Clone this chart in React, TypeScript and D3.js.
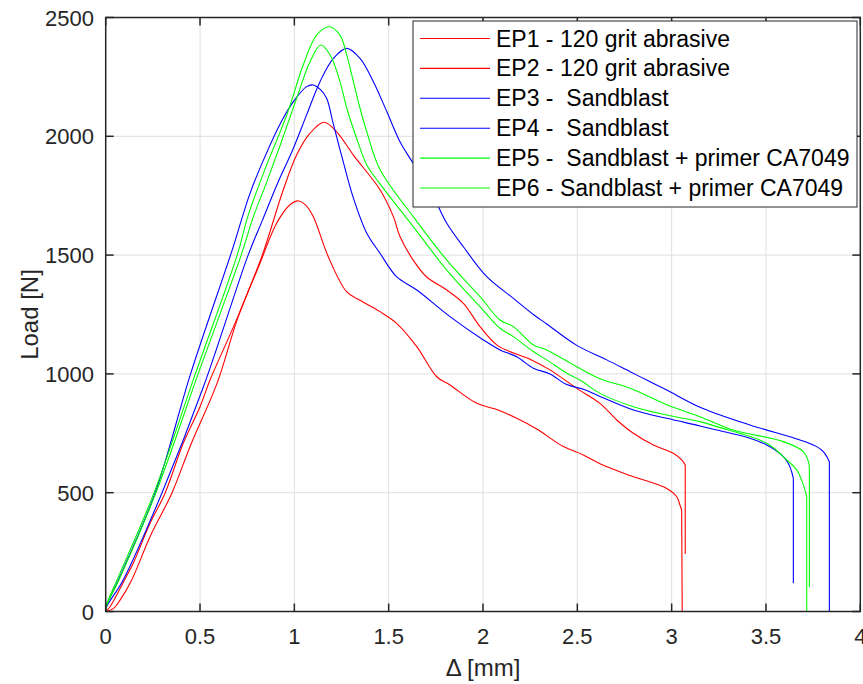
import React from "react";
import * as d3 from "d3";

type Pt = [number, number];

const ep1: Pt[] = [[0,0],[0.04,12],[0.076,48],[0.138,133],[0.235,315],[0.35,497],[0.45,700],[0.59,960],[0.70,1235],[0.818,1466],[0.906,1634],[0.977,1712],[1.021,1728],[1.06,1710],[1.10,1662],[1.18,1493],[1.278,1345],[1.348,1310],[1.454,1262],[1.542,1213],[1.649,1115],[1.755,988],[1.825,953],[1.967,876],[2.08,848],[2.179,813],[2.285,768],[2.426,694],[2.532,659],[2.62,622],[2.78,572],[2.974,518],[3.027,483],[3.044,448],[3.053,427],[3.056,0]];
const ep2: Pt[] = [[0,0],[0.023,20],[0.10,133],[0.146,203],[0.235,371],[0.314,497],[0.411,708],[0.5,862],[0.553,974],[0.70,1240],[0.83,1500],[0.941,1774],[1.012,1921],[1.08,2010],[1.157,2059],[1.224,2019],[1.313,1921],[1.454,1775],[1.525,1662],[1.56,1578],[1.63,1479],[1.70,1409],[1.808,1353],[1.896,1297],[1.984,1199],[2.08,1118],[2.249,1062],[2.355,1017],[2.497,939],[2.62,876],[2.709,806],[2.797,750],[2.903,701],[3.009,666],[3.053,638],[3.072,617],[3.072,242]];
const ep3: Pt[] = [[0,0],[0.005,25],[0.067,133],[0.261,497],[0.45,1000],[0.67,1520],[0.765,1760],[0.85,1925],[0.93,2060],[0.995,2146],[1.065,2209],[1.10,2216],[1.14,2195],[1.171,2160],[1.207,2050],[1.26,1890],[1.313,1740],[1.384,1592],[1.454,1508],[1.542,1409],[1.649,1353],[1.825,1241],[2.002,1143],[2.09,1101],[2.179,1072],[2.267,1024],[2.355,1000],[2.444,955],[2.532,935],[2.62,905],[2.797,848],[2.974,813],[3.15,781],[3.239,764],[3.415,729],[3.504,701],[3.583,659],[3.618,624],[3.636,588],[3.645,560],[3.645,119]];
const ep4: Pt[] = [[0,0],[0.005,20],[0.093,133],[0.297,497],[0.52,950],[0.755,1500],[0.83,1645],[0.91,1800],[0.995,1950],[1.065,2090],[1.136,2230],[1.207,2328],[1.278,2370],[1.348,2328],[1.419,2230],[1.49,2104],[1.56,1977],[1.63,1886],[1.737,1746],[1.808,1634],[1.896,1535],[2.02,1409],[2.161,1318],[2.267,1250],[2.338,1210],[2.497,1120],[2.656,1059],[2.78,1009],[2.868,974],[2.974,932],[3.15,860],[3.415,785],[3.68,722],[3.769,694],[3.804,673],[3.822,652],[3.836,630],[3.836,0]];
const ep5: Pt[] = [[0,0],[0.005,30],[0.06,133],[0.255,497],[0.475,1000],[0.697,1500],[0.756,1669],[0.853,1879],[0.96,2090],[1.047,2300],[1.118,2426],[1.184,2461],[1.242,2426],[1.278,2342],[1.313,2230],[1.348,2118],[1.384,2019],[1.454,1860],[1.63,1662],[1.808,1479],[1.984,1325],[2.09,1227],[2.161,1199],[2.267,1122],[2.338,1101],[2.497,1030],[2.62,980],[2.78,940],[2.974,870],[3.15,820],[3.327,764],[3.592,715],[3.698,673],[3.725,631],[3.73,600],[3.73,102]];
const ep6: Pt[] = [[0,0],[0.005,25],[0.07,133],[0.265,497],[0.49,1000],[0.718,1500],[0.782,1660],[0.85,1800],[0.924,1960],[1.012,2160],[1.083,2314],[1.14,2384],[1.19,2342],[1.242,2230],[1.278,2118],[1.33,1992],[1.384,1879],[1.454,1800],[1.63,1620],[1.808,1437],[1.984,1283],[2.09,1192],[2.161,1157],[2.267,1094],[2.338,1059],[2.444,1003],[2.514,974],[2.62,918],[2.797,862],[2.974,827],[3.15,799],[3.239,778],[3.504,708],[3.61,638],[3.663,596],[3.689,553],[3.707,511],[3.716,480],[3.716,0]];

const seriesNames = [
  "EP1 - 120 grit abrasive",
  "EP2 - 120 grit abrasive",
  "EP3 -  Sandblast",
  "EP4 -  Sandblast",
  "EP5 -  Sandblast + primer CA7049",
  "EP6 - Sandblast + primer CA7049",
];
const seriesColors = ["#ff0000", "#ff0000", "#0000ff", "#0000ff", "#00ff00", "#00ff00"];
const seriesData = [ep1, ep2, ep3, ep4, ep5, ep6];

const xTicks = [0, 0.5, 1, 1.5, 2, 2.5, 3, 3.5, 4];
const yTicks = [0, 500, 1000, 1500, 2000, 2500];
const xLabel = "Δ [mm]";
const yLabel = "Load [N]";

const W = 863, H = 684;
const L = 105.7, R = 860.3, T = 17.5, B = 611.5;
const FONT = "'Liberation Sans', Arial, Helvetica, sans-serif";
const AX = "#262626";

export default function App() {
  const x = d3.scaleLinear().domain([0, 4]).range([L, R]);
  const y = d3.scaleLinear().domain([0, 2500]).range([B, T]);
  const smooth = d3.line<Pt>().x((d) => x(d[0])).y((d) => y(d[1])).curve(d3.curveCatmullRom.alpha(0.5));
  const pathFor = (d: Pt[]) => {
    const body = d.slice(0, d.length - 1);
    const last = d[d.length - 1];
    return (smooth(body) || "") + `L${x(last[0])},${y(last[1])}`;
  };
  const tl = 8;
  const legX = 413, legY = 21, legW = 444, legH = 186;
  const rowY0 = 38.5, rowDy = 29.9;

  return (
    <svg width={W} height={H} style={{ position: "absolute", left: 0, top: 0, background: "#fff" }} fontFamily={FONT}>
      <rect x={0} y={0} width={W} height={H} fill="#fff" />
      {xTicks.map((t) => (
        <line key={"gx" + t} x1={x(t)} x2={x(t)} y1={T} y2={B} stroke="#dfdfdf" strokeWidth={1} />
      ))}
      {yTicks.map((t) => (
        <line key={"gy" + t} x1={L} x2={R} y1={y(t)} y2={y(t)} stroke="#dfdfdf" strokeWidth={1} />
      ))}
      <defs>
        <clipPath id="clip">
          <rect x={L} y={T} width={R - L} height={B - T} />
        </clipPath>
      </defs>
      <g clipPath="url(#clip)">
        {seriesData.map((d, i) => (
          <path key={i} d={pathFor(d)} fill="none" stroke={seriesColors[i]} strokeWidth={1.1} />
        ))}
      </g>
      <rect x={L} y={T} width={R - L} height={B - T} fill="none" stroke={AX} strokeWidth={1.5} />
      {xTicks.map((t) => (
        <g key={"tx" + t}>
          <line x1={x(t)} x2={x(t)} y1={B} y2={B - tl} stroke={AX} strokeWidth={1.5} />
          <line x1={x(t)} x2={x(t)} y1={T} y2={T + tl} stroke={AX} strokeWidth={1.5} />
          <text x={x(t)} y={644} textAnchor="middle" fontSize={22} fill={AX}>{String(t)}</text>
        </g>
      ))}
      {yTicks.map((t) => (
        <g key={"ty" + t}>
          <line x1={L} x2={L + tl} y1={y(t)} y2={y(t)} stroke={AX} strokeWidth={1.5} />
          <line x1={R} x2={R - tl} y1={y(t)} y2={y(t)} stroke={AX} strokeWidth={1.5} />
          <text x={94} y={y(t) + 8} textAnchor="end" fontSize={22} fill={AX}>{String(t)}</text>
        </g>
      ))}
      <text x={(L + R) / 2} y={676} textAnchor="middle" fontSize={24} fill={AX}>{xLabel}</text>
      <text transform={`translate(38,${(T + B) / 2}) rotate(-90)`} textAnchor="middle" fontSize={24} fill={AX}>{yLabel}</text>
      <rect x={legX} y={legY} width={legW} height={legH} fill="#fff" stroke={AX} strokeWidth={1} />
      {seriesNames.map((n, i) => (
        <g key={"lg" + i}>
          <line x1={420} x2={490} y1={rowY0 + i * rowDy} y2={rowY0 + i * rowDy} stroke={seriesColors[i]} strokeWidth={1.1} />
          <text x={496} y={rowY0 + i * rowDy + 8} fontSize={23} fill="#000" style={{ whiteSpace: "pre" }} xmlSpace="preserve">{n}</text>
        </g>
      ))}
    </svg>
  );
}
